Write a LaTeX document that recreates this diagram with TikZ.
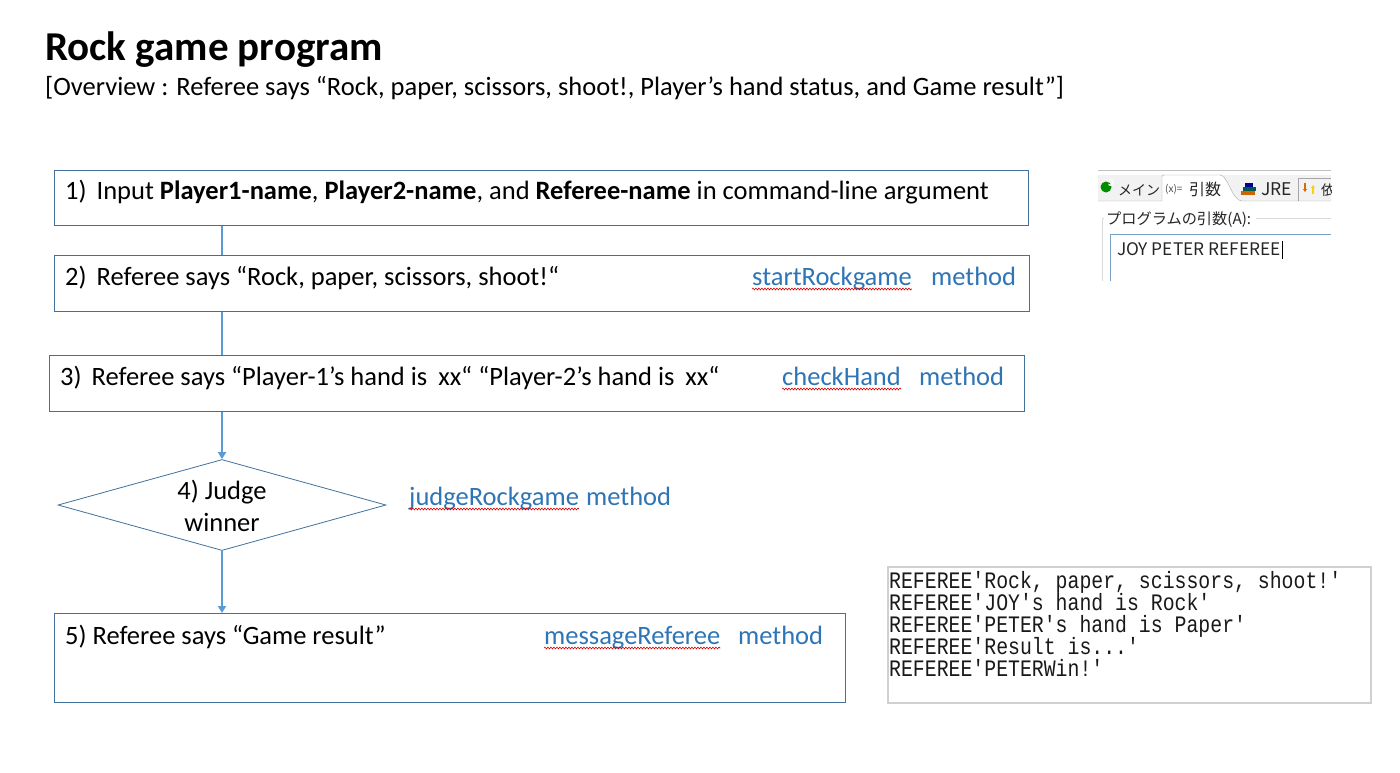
\documentclass[tikz,border=0pt]{standalone}
\usepackage{fontspec}
\setmainfont{Carlito}
\newfontfamily\jpfont{Noto Sans CJK JP}
\newfontfamily\consolefont[FakeStretch=0.84]{Liberation Mono}
\usetikzlibrary{shapes.geometric,arrows.meta,decorations.pathmorphing,calc}
\definecolor{boxline}{RGB}{65,113,156}
\definecolor{flow}{RGB}{91,155,213}
\definecolor{methodblue}{RGB}{46,117,182}
\definecolor{fieldblue}{RGB}{122,160,200}
\definecolor{consoleline}{RGB}{208,208,208}
\begin{document}
\begin{tikzpicture}[x=1pt,y=-1pt,
  stepbox/.style={draw=boxline, line width=1pt, anchor=north west, inner sep=0pt},
  steptext/.style={anchor=base west, inner sep=0pt, font=\fontsize{26.5}{30}\selectfont},
  methodname/.style={anchor=base west, inner sep=0pt, text=methodblue, font=\fontsize{26.5}{30}\selectfont},
  spell/.style={draw=red!85!black, line width=0.6pt, decorate, decoration={snake, amplitude=0.9pt, segment length=3pt}},
  link/.style={draw=flow, line width=2pt},
  linkarrow/.style={draw=flow, line width=2pt, -{Triangle[width=8pt,length=7pt]}},
  uitext/.style={anchor=base west, inner sep=0pt, font=\jpfont\fontsize{14}{18}\selectfont, text=black!85},
  console/.style={anchor=base west, inner sep=0pt, font=\consolefont\fontsize{23.6}{22}\selectfont, text=black!90}]
\useasboundingbox (0,0) rectangle (1400,772);
\fill[white] (0,0) rectangle (1400,772);

% heading
\node[anchor=base west, inner sep=0pt, font=\bfseries\fontsize{41}{46}\selectfont] (title) at (45,60) {Rock game program};
\node[anchor=base west, inner sep=0pt, font=\fontsize{26.5}{30}\selectfont] (overview) at (45,95)
  {[Overview : Referee says “Rock, paper, scissors, shoot!, Player’s hand status, and Game result”]};

% flow boxes
\node[stepbox, minimum width=974pt, minimum height=55pt] (s1) at (54,170) {};
\node[stepbox, minimum width=975pt, minimum height=56pt] (s2) at (54,255) {};
\node[stepbox, minimum width=975pt, minimum height=56pt] (s3) at (49,355) {};
\node[diamond, draw=boxline, line width=0.8pt, minimum width=328pt, minimum height=91pt, inner sep=0pt] (s4) at (222,505) {};
\node[stepbox, minimum width=791pt, minimum height=89pt] (s5) at (54,613) {};

% step texts
\node[steptext] (t1) at (65,199) {1)\hspace{10pt}Input \textbf{Player1-name}, \textbf{Player2-name}, and \textbf{Referee-name} in command-line argument};
\node[steptext] (t2) at (65,285) {2)\hspace{10pt}Referee says “Rock, paper, scissors, shoot!“};
\node[steptext] (t3) at (60,385) {3)\hspace{10pt}Referee says “Player-1’s hand is\hspace{11pt}xx“ “Player-2’s hand is\hspace{11pt}xx“};
\node[inner sep=0pt, align=center, font=\fontsize{26.5}{32}\selectfont] (t4) at (222,506) {4) Judge\\winner};
\node[steptext] (t5) at (65,644) {5) Referee says “Game result”};

% method labels
\node[methodname] (m2) at (752,285) {startRockgame};
\node[methodname] (m2b) at (931,285) {method};
\node[methodname] (m3) at (782,385) {checkHand};
\node[methodname] (m3b) at (919,385) {method};
\node[methodname] (m4) at (409,505) {judgeRockgame};
\node[methodname] (m4b) at (586,505) {method};
\node[methodname] (m5) at (544,644) {messageReferee};
\node[methodname] (m5b) at (738,644) {method};
\foreach \m in {m2,m3,m4,m5}
  \draw[spell] ($(\m.base west)+(0,4)$) -- ($(\m.base east)+(0,4)$);

% connectors
\draw[link] (s4.north |- s1.south) -- (s4.north |- s2.north);
\draw[link] (s4.north |- s2.south) -- (s4.north |- s3.north);
\draw[linkarrow] (s4.north |- s3.south) -- (s4.north);
\draw[linkarrow] (s4.south) -- (s4.south |- s5.north);

% run configuration panel
\begin{scope}
\clip (1098,166) rectangle (1331,281);
\fill[white] (1098,166) rectangle (1331,281);
\draw[black!25] (1098,170) -- (1331,170);
\fill[black!5] (1098,175) rectangle (1331,201);
\fill[white] (1162,201) -- (1162,177) .. controls (1162,175) .. (1165,175) -- (1220,175) .. controls (1228,175) and (1232,201) .. (1242,201) -- cycle;
\draw[black!35] (1098,201) -- (1162,201) -- (1162,177) .. controls (1162,175) .. (1165,175) -- (1220,175) .. controls (1228,175) and (1232,201) .. (1242,201) -- (1331,201);
\draw[black!35] (1298,201) -- (1298,178) -- (1331,178);
\fill[green!55!black] (1106,187) circle (5.5pt);
\draw[white, line width=1.3pt] (1108.5,184.5) arc (-45+270:-45+270+270:2.6pt);
\node[uitext] (tabmain) at (1118,195) {メイン};
\node[anchor=base west, inner sep=0pt, font=\jpfont\fontsize{10}{11}\selectfont, text=black!70] (tabvar) at (1165,192) {(x)=};
\node[uitext, font=\jpfont\fontsize{16}{18}\selectfont] (tabargs) at (1189,195) {引数};
\fill[orange!80!black] (1241,191) rectangle (1255,195);
\fill[teal!70!black] (1243,187) rectangle (1256,191);
\fill[blue!60!black] (1245,183) rectangle (1253,187);
\node[uitext, font=\jpfont\fontsize{17.5}{18}\selectfont] (tabjre) at (1261,195) {JRE};
\draw[orange!85!black, line width=1.3pt, -{Triangle[width=4pt,length=3pt]}] (1305,183) -- (1305,192);
\draw[yellow!70!orange, line width=1.3pt, -{Triangle[width=4pt,length=3pt]}] (1313,194) -- (1313,185);
\node[uitext] (tabdep) at (1321,195) {依};
\draw[black!15] (1102,281) -- (1102,218) -- (1104,218);
\draw[black!15] (1256,218) -- (1331,218);
\node[uitext, font=\jpfont\fontsize{15.2}{18}\selectfont] (arglabel) at (1106,224) {プログラムの引数(A):};
\draw[fieldblue] (1110,281) -- (1110,234) -- (1331,234);
\node[uitext, font=\jpfont\fontsize{17.3}{18}\selectfont] (argvalue) at (1117,255) {JOY PETER REFEREE};
\draw[black, line width=0.8pt] ($(argvalue.base east)+(1,4)$) -- ($(argvalue.base east)+(1,-14)$);
\end{scope}

% console output
\node[draw=consoleline, line width=1.5pt, anchor=north west, minimum width=483pt, minimum height=136pt, inner sep=0pt] (out) at (887,566) {};
\node[console] (o1) at (889,588) {REFEREE'Rock, paper, scissors, shoot!'};
\node[console] (o2) at (889,610) {REFEREE'JOY's hand is Rock'};
\node[console] (o3) at (889,632) {REFEREE'PETER's hand is Paper'};
\node[console] (o4) at (889,654) {REFEREE'Result is...'};
\node[console] (o5) at (889,676) {REFEREE'PETERWin!'};
\end{tikzpicture}
\end{document}
